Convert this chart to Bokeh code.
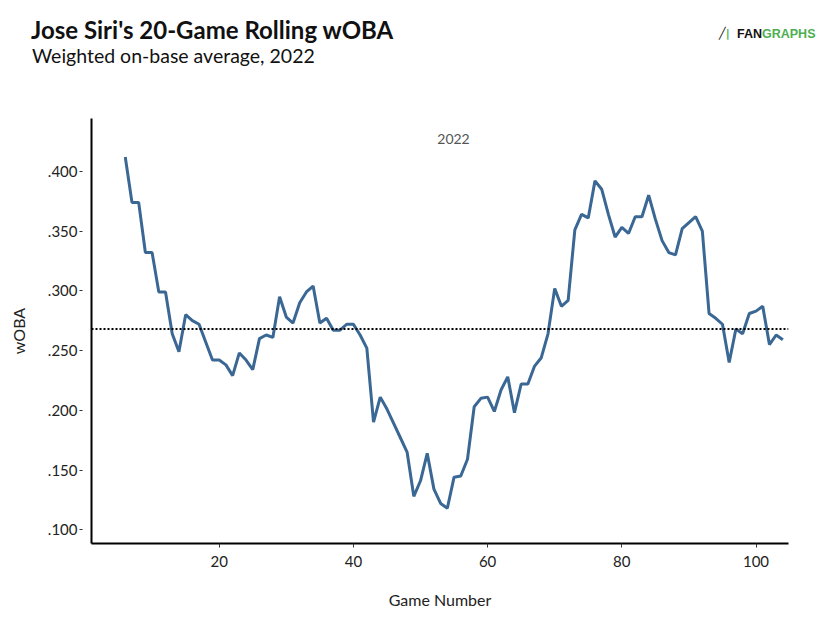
from bokeh.plotting import figure
from bokeh.layouts import column
from bokeh.models import Range1d, FixedTicker, CustomJSTickFormatter, Span, Label, Div
from bokeh.embed import file_html
from bokeh.resources import INLINE

# 20-game rolling wOBA, games 6..104
games = list(range(6, 105))
woba = [.412, .374, .374, .332, .332, .299, .299, .264, .249, .280,
        .275, .272, .257, .242, .242, .238, .229, .248, .242, .234,
        .260, .263, .261, .295, .278, .273, .290, .299, .304, .273,
        .277, .267, .267, .272, .272, .263, .252, .190, .211, .201,
        .189, .177, .165, .128, .141, .164, .134, .122, .118, .144,
        .145, .159, .203, .210, .211, .199, .217, .228, .198, .222,
        .222, .237, .244, .264, .302, .287, .292, .351, .364, .361,
        .392, .385, .364, .345, .353, .348, .362, .362, .380, .360,
        .342, .332, .330, .352, .357, .362, .350, .281, .277, .272,
        .240, .268, .264, .281, .283, .287, .255, .263, .259]
season_woba = 0.268
x_ticks = [20, 40, 60, 80, 100]
y_ticks = [0.10, 0.15, 0.20, 0.25, 0.30, 0.35, 0.40]

title = "Jose Siri's 20-Game Rolling wOBA"
subtitle = "Weighted on-base average, 2022"

FONT = "Lato"
W = 838
HEAD_H = 118

# header: title, subtitle, FanGraphs logo
head_html = f"""
<div style="position:relative;width:{W}px;height:{HEAD_H}px;line-height:1;white-space:nowrap;">
  <span style="position:absolute;left:31px;top:18px;font-family:{FONT};font-size:24px;font-weight:bold;color:#111;">{title}</span>
  <span style="position:absolute;left:32px;top:46px;font-family:{FONT};font-size:19.5px;color:#111;">{subtitle}</span>
  <span style="position:absolute;left:719px;top:28px;font-family:'DejaVu Sans';font-size:11px;font-weight:bold;">
    <span style="color:#111;">&#x2571;</span><span style="color:#4caf50;">|</span>
  </span>
  <span style="position:absolute;left:737px;top:28px;font-family:'Liberation Sans';font-size:12.5px;font-weight:bold;">
    <span style="color:#111;">FAN</span><span style="color:#4caf50;">GRAPHS</span>
  </span>
</div>
"""
head = Div(text=head_html, width=W, height=HEAD_H, margin=0)

# main chart
p = figure(width=W, height=512, output_backend="svg", toolbar_location=None,
           x_range=Range1d(0.97, 104.84), y_range=Range1d(0.0885, 0.4442),
           min_border_left=91, min_border_right=50, min_border_top=0, min_border_bottom=87)
p.outline_line_color = None
p.grid.visible = False

# season average (dotted)
p.add_layout(Span(location=season_woba, dimension="width", line_color="black",
                  line_dash="2 2", line_width=2))

p.line(games, woba, line_color="#3a6794", line_width=3)

for ax in (p.xaxis[0], p.yaxis[0]):
    ax.axis_line_width = 2
    ax.axis_line_color = "black"
    ax.major_tick_line_color = "#333333"
    ax.minor_tick_line_color = None
    ax.major_label_text_font = FONT
    ax.major_label_text_font_size = "15px"
    ax.major_label_text_color = "#222222"
    ax.axis_label_text_font = FONT
    ax.axis_label_text_font_size = "16px"
    ax.axis_label_text_font_style = "normal"
    ax.axis_label_text_color = "#222222"

p.xaxis.ticker = FixedTicker(ticks=x_ticks)
p.xaxis.major_tick_out = 4
p.xaxis.major_tick_in = 0
p.xaxis.major_label_standoff = 8
p.xaxis.axis_label = "Game Number"
p.xaxis.axis_label_standoff = 20

p.yaxis.ticker = FixedTicker(ticks=y_ticks)
p.yaxis.formatter = CustomJSTickFormatter(code="return tick.toFixed(3).replace(/^0/, '');")
p.yaxis.major_tick_out = 12
p.yaxis.major_tick_in = -9
p.yaxis.major_label_standoff = 2
p.yaxis.axis_label = "wOBA"
p.yaxis.axis_label_standoff = 17

p.add_layout(Label(x=362, y=400, x_units="screen", y_units="screen",
                   text="2022", text_font=FONT, text_font_size="14px",
                   text_color="#555555", text_align="center"))

page = column(head, p, spacing=0)
open("out.html", "w").write(file_html(page, INLINE))
